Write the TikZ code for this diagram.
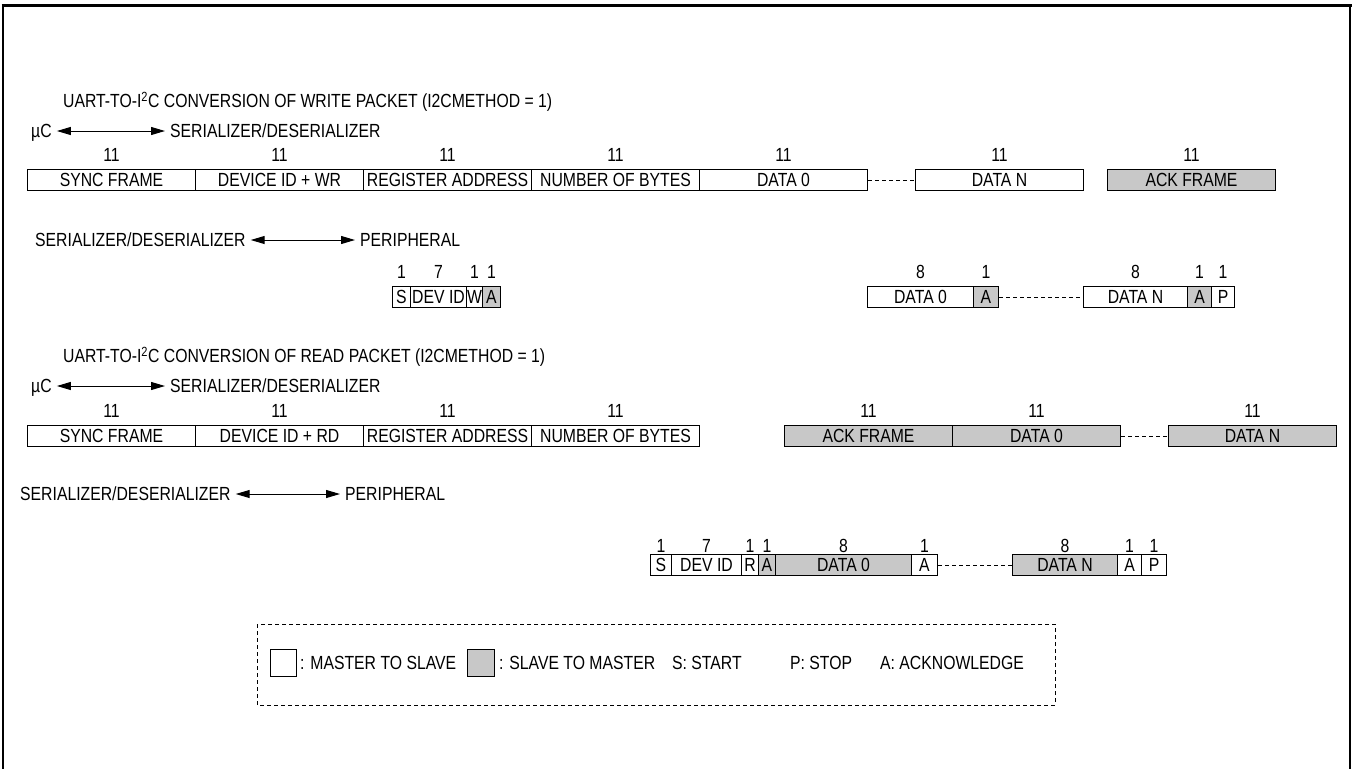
\documentclass[tikz,border=0pt]{standalone}
\usepackage{fontspec}
\setmainfont{Liberation Sans}[FakeStretch=0.83]
\usetikzlibrary{arrows.meta}
\definecolor{boxgray}{RGB}{200,200,200}
\begin{document}
\begin{tikzpicture}[x=1pt,y=-1pt,font=\fontsize{19}{21}\selectfont,
  txt/.style={inner sep=0pt,text height=13.6pt,text depth=0pt,anchor=west},
  num/.style={inner sep=0pt,text height=13.6pt,text depth=0pt},
  pbox/.style={draw,line width=1pt,inner sep=0pt,minimum height=21pt,text height=13.6pt,text depth=0pt,anchor=west},
  gbox/.style={pbox,fill=boxgray},
  dots/.style={line width=0.8pt,dash pattern=on 4pt off 3pt},
  biarrow/.style={{Triangle[length=14pt,width=8pt]}-{Triangle[length=14pt,width=8pt]},line width=1pt,shorten <=5pt,shorten >=5pt}]
\useasboundingbox (0,0) rectangle (1353,769);
% frame
\draw[line width=3pt] (1.5,5) -- (1351.5,5);
\draw[line width=2pt] (3,5) -- (3,769);
\draw[line width=2pt] (1350,5) -- (1350,769);

% ===== WRITE PACKET =====
\node[txt] (t1) at (63,101) {UART-TO-I\textsuperscript{2}C CONVERSION OF WRITE PACKET (I2CMETHOD = 1)};
\node[txt] (uc1) at (31,131) {µC};
\node[txt] (sd1) at (170,131) {SERIALIZER/DESERIALIZER};
\draw[biarrow] (uc1) -- (sd1);

\node[pbox,minimum width=168pt] (w1) at (27,180) {SYNC FRAME};
\node[pbox,minimum width=168pt] (w2) at (195,180) {DEVICE ID + WR};
\node[pbox,minimum width=168pt] (w3) at (363,180) {REGISTER ADDRESS};
\node[pbox,minimum width=168pt] (w4) at (531,180) {NUMBER OF BYTES};
\node[pbox,minimum width=168pt] (w5) at (699,180) {DATA 0};
\node[pbox,minimum width=168pt] (w6) at (915,180) {DATA N};
\node[gbox,minimum width=168pt] (w7) at (1107,180) {ACK FRAME};
\draw[dots] (w5.east) -- (w6.west);
\foreach \n in {w1,w2,w3,w4,w5,w6,w7}
  \node[num] (n\n) at (\n.center |- 0,155) {11};

\node[txt] (sd2) at (35,240) {SERIALIZER/DESERIALIZER};
\node[txt] (pe1) at (360,240) {PERIPHERAL};
\draw[biarrow] (sd2) -- (pe1);

\node[pbox,minimum width=18pt] (a1) at (392,297) {S};
\node[pbox,minimum width=56pt] (a2) at (410,297) {DEV ID};
\node[pbox,minimum width=16pt] (a3) at (466,297) {W};
\node[gbox,minimum width=18pt] (a4) at (482,297) {A};
\node[pbox,minimum width=106pt] (a5) at (867,297) {DATA 0};
\node[gbox,minimum width=25pt] (a6) at (973,297) {A};
\node[pbox,minimum width=104pt] (a7) at (1083,297) {DATA N};
\node[gbox,minimum width=24pt] (a8) at (1187,297) {A};
\node[pbox,minimum width=23pt] (a9) at (1211,297) {P};
\draw[dots] (a6.east) -- (a7.west);
\foreach \n/\v in {a1/1,a2/7,a3/1,a4/1,a5/8,a6/1,a7/8,a8/1,a9/1}
  \node[num] (n\n) at (\n.center |- 0,272) {\v};

% ===== READ PACKET =====
\node[txt] (t2) at (63,356) {UART-TO-I\textsuperscript{2}C CONVERSION OF READ PACKET (I2CMETHOD = 1)};
\node[txt] (uc2) at (31,386) {µC};
\node[txt] (sd3) at (170,386) {SERIALIZER/DESERIALIZER};
\draw[biarrow] (uc2) -- (sd3);

\node[pbox,minimum width=168pt] (r1) at (27,436) {SYNC FRAME};
\node[pbox,minimum width=168pt] (r2) at (195,436) {DEVICE ID + RD};
\node[pbox,minimum width=168pt] (r3) at (363,436) {REGISTER ADDRESS};
\node[pbox,minimum width=168pt] (r4) at (531,436) {NUMBER OF BYTES};
\node[gbox,minimum width=168pt] (r5) at (784,436) {ACK FRAME};
\node[gbox,minimum width=168pt] (r6) at (952,436) {DATA 0};
\node[gbox,minimum width=168pt] (r7) at (1168,436) {DATA N};
\draw[dots] (r6.east) -- (r7.west);
\foreach \n in {r1,r2,r3,r4,r5,r6,r7}
  \node[num] (n\n) at (\n.center |- 0,411) {11};

\node[txt] (sd4) at (20,494) {SERIALIZER/DESERIALIZER};
\node[txt] (pe2) at (345,494) {PERIPHERAL};
\draw[biarrow] (sd4) -- (pe2);

\node[pbox,minimum width=21pt] (b1) at (650,565) {S};
\node[pbox,minimum width=70pt] (b2) at (671,565) {DEV ID};
\node[pbox,minimum width=17pt] (b3) at (741,565) {R};
\node[gbox,minimum width=17pt] (b4) at (758,565) {A};
\node[gbox,minimum width=136pt] (b5) at (775,565) {DATA 0};
\node[pbox,minimum width=26pt] (b6) at (911,565) {A};
\node[gbox,minimum width=105pt] (b7) at (1012,565) {DATA N};
\node[pbox,minimum width=24pt] (b8) at (1117,565) {A};
\node[pbox,minimum width=25pt] (b9) at (1141,565) {P};
\draw[dots] (b6.east) -- (b7.west);
\foreach \n/\v in {b1/1,b2/7,b3/1,b4/1,b5/8,b6/1,b7/8,b8/1,b9/1}
  \node[num] (n\n) at (\n.center |- 0,546) {\v};

% ===== LEGEND =====
\draw[dots] (257,624) rectangle (1055,705);
\node[pbox,minimum width=26pt,minimum height=27pt] (k1) at (270,663) {};
\node[txt] (k1t) at (300,663) {: MASTER TO SLAVE};
\node[gbox,minimum width=27pt,minimum height=27pt] (k2) at (467,663) {};
\node[txt] (k2t) at (499,663) {: SLAVE TO MASTER};
\node[txt] (k3) at (672,663) {S: START};
\node[txt] (k4) at (790,663) {P: STOP};
\node[txt] (k5) at (880,663) {A: ACKNOWLEDGE};
\end{tikzpicture}
\end{document}
